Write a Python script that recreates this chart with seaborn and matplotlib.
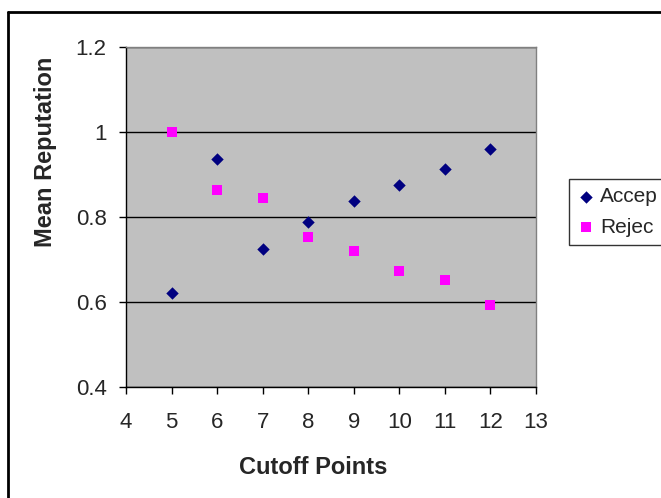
import pandas as pd
import matplotlib.pyplot as plt
import seaborn as sns
from matplotlib.lines import Line2D

# values
cutoff = [5, 6, 7, 8, 9, 10, 11, 12]
accep = [0.622, 0.937, 0.725, 0.789, 0.838, 0.876, 0.914, 0.960]
rejec = [1.000, 0.863, 0.844, 0.754, 0.720, 0.674, 0.651, 0.594]
x_ticks = [4, 5, 6, 7, 8, 9, 10, 11, 12, 13]
y_ticks = [0.4, 0.6, 0.8, 1.0, 1.2]
y_tick_labels = ["0.4", "0.6", "0.8", "1", "1.2"]

sns.set_style("white")
plt.rcParams["font.family"] = ["Liberation Sans", "DejaVu Sans"]

W, H = 661, 498

df_acc = pd.DataFrame({"cutoff": cutoff, "reputation": accep})
df_rej = pd.DataFrame({"cutoff": cutoff, "reputation": rejec})

fig = plt.figure(figsize=(W / 100, H / 100), dpi=100)
ax = fig.add_axes([126 / W, 1 - 387 / H, 410 / W, 340 / H])
ax.set_facecolor("#C0C0C0")

sns.scatterplot(data=df_acc, x="cutoff", y="reputation", marker="D", s=40,
                color="#000080", edgecolor="#000080", linewidth=0, ax=ax,
                label="Accep", zorder=3)
sns.scatterplot(data=df_rej, x="cutoff", y="reputation", marker="s", s=55,
                color="#FF00FF", edgecolor="#FF00FF", linewidth=0, ax=ax,
                label="Rejec", zorder=3)

ax.set_xlim(4, 13)
ax.set_ylim(0.4, 1.2)
ax.set_xticks(x_ticks)
ax.set_yticks(y_ticks)
ax.set_yticklabels(y_tick_labels)
ax.tick_params(axis="both", direction="out", length=5, width=1,
               color="black", labelsize=16, bottom=True, left=True)
ax.tick_params(axis="x", pad=13)
ax.tick_params(axis="y", pad=9)

# black horizontal gridlines only
ax.yaxis.grid(True, color="black", linewidth=1)
ax.xaxis.grid(False)
ax.set_axisbelow(True)

for side in ["top", "right"]:
    ax.spines[side].set_color("#808080")
for side in ["left", "bottom"]:
    ax.spines[side].set_color("black")
for sp in ax.spines.values():
    sp.set_linewidth(1)
    sp.set_visible(True)

ax.set_xlabel("")
ax.set_ylabel("")
fig.text(313 / W, 1 - 467 / H, "Cutoff Points", fontsize=17, fontweight="bold",
         ha="center", va="center")
fig.text(46 / W, 1 - 152 / H, "Mean Reputation", fontsize=17, fontweight="bold",
         rotation=90, ha="center", va="center")

leg = ax.legend(loc="upper left", bbox_to_anchor=(569 / W, 1 - 179 / H),
                bbox_transform=fig.transFigure, fontsize=15, frameon=True,
                fancybox=False, edgecolor="black", handletextpad=0.3,
                handlelength=0.8, borderpad=0.4, labelspacing=0.55,
                borderaxespad=0)
leg.get_frame().set_linewidth(1)

# outer chart border (runs off the right and bottom edge)
fig.add_artist(Line2D([8 / W, 8 / W], [0, 1 - 12.5 / H],
                      transform=fig.transFigure, color="black", linewidth=2))
fig.add_artist(Line2D([8 / W, 1], [1 - 12.5 / H, 1 - 12.5 / H],
                      transform=fig.transFigure, color="black", linewidth=2))

fig.savefig("out.png", dpi=100)
